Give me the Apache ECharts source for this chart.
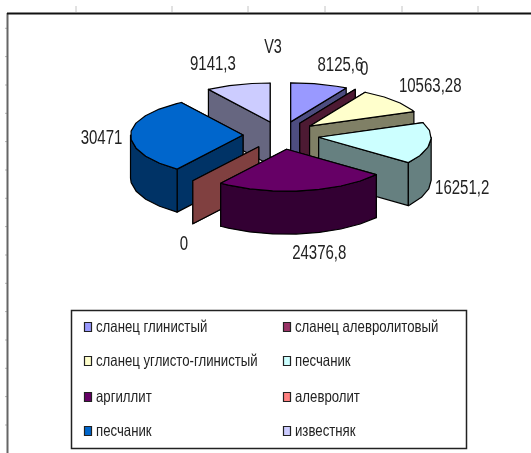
<!DOCTYPE html>
<html>
<head>
<meta charset="utf-8">
<style>html,body{margin:0;padding:0;background:#fff}#chart{width:531px;height:453px}</style>
<script src="https://cdn.jsdelivr.net/npm/echarts@6/dist/echarts.min.js"></script>
</head>
<body>
<div id="chart"></div>
<script>
// Rock types and their volumes, clockwise from twelve o'clock
const categories = ['сланец глинистый', 'сланец алевролитовый', 'сланец углисто-глинистый', 'песчаник', 'аргиллит', 'алевролит', 'песчаник', 'известняк'];
const values = [8125.6, 0, 10563.28, 16251.2, 24376.8, 0, 30471, 9141.3];
const colors = ['#9999FF', '#993366', '#FFFFCC', '#CCFFFF', '#660066', '#FF8080', '#0066CC', '#CCCCFF'];

// Painter's order: rear slices first, front slice last
const drawOrder = [7, 0, 1, 2, 3, 6, 5, 4];

// Projection of the tilted pie; the near half of the ellipse is slightly deeper
const centre = [281, 135.4];
const radiusX = 112.5;
const radiusYBack = 39;
const radiusYFront = 42;
const explodeX = 38;
const explodeY = 14;
const depth = 43;
const rimStep = 12;

// Value label offsets from the middle of each slice's rim
const labelOffsets = [[21, -19], [9, -20], [36, -14], [32, 46], [16, 63], [-9, 64], [-29, 4], [-25, -20]];

const labelFont = '"Liberation Sans", Arial, sans-serif';
const total = values.reduce((a, b) => a + b, 0);
const starts = [];
values.reduce((acc, v, i) => { starts[i] = acc; return acc + v / total * 360; }, 0);

const rad = d => d * Math.PI / 180;
function shade(hex, k) {
  const n = parseInt(hex.slice(1), 16);
  const c = s => Math.round(((n >> s) & 255) * k);
  return `rgb(${c(16)},${c(8)},${c(0)})`;
}
function rimPoint(apex, deg) {
  const cos = Math.cos(rad(deg));
  return [apex[0] + radiusX * Math.sin(rad(deg)), apex[1] - (cos < 0 ? radiusYFront : radiusYBack) * cos];
}
function arcPoints(apex, from, to) {
  const pts = [];
  for (let a = from; a < to; a += rimStep) pts.push(rimPoint(apex, a));
  pts.push(rimPoint(apex, to));
  return pts;
}
const drop = p => [p[0], p[1] + depth];

function polygon(points, fill) {
  return {
    type: 'polygon',
    shape: { points },
    style: { fill, stroke: '#000', lineWidth: 1.2, lineJoin: 'round' }
  };
}

function renderSlice(params, api) {
  const i = api.value(1);
  const value = api.value(0);
  const start = starts[i];
  const sweep = value / total * 360;
  const end = start + sweep;
  const mid = start + sweep / 2;
  const apex = [
    centre[0] + explodeX * Math.sin(rad(mid)),
    centre[1] - explodeY * Math.cos(rad(mid))
  ];
  const side = shade(colors[i], 0.5);
  const children = [];

  // Cut faces along the two radial edges, the nearer one on top
  [start, end]
    .sort((a, b) => rimPoint(apex, a)[1] - rimPoint(apex, b)[1])
    .forEach(edge => {
      const rim = rimPoint(apex, edge);
      children.push(polygon([apex, rim, drop(rim), drop(apex)], side));
    });

  if (sweep > 0) {
    // Outer wall, only the part turned towards the viewer
    const from = Math.max(start, 90);
    const to = Math.min(end, 270);
    if (to > from) {
      const arc = arcPoints(apex, from, to);
      children.push(polygon(arc.concat(arc.slice().reverse().map(drop)), side));
    }
    // Top face
    children.push(polygon([apex].concat(arcPoints(apex, start, end)), colors[i]));
  }

  // Value label
  const anchor = rimPoint(apex, mid);
  children.push({
    type: 'text',
    x: anchor[0] + labelOffsets[i][0],
    y: anchor[1] + labelOffsets[i][1],
    scaleX: 0.75,
    z2: 10,
    style: {
      text: String(value).replace('.', ','),
      font: '20px ' + labelFont,
      fill: '#222',
      align: 'center',
      verticalAlign: 'middle'
    }
  });
  return { type: 'group', children };
}

// Ruler ticks and frame edges around the chart area
const topTicks = [76, 172, 248, 325, 402, 478];
const leftTicks = [28.3, 56.6, 85, 113.3, 141.6, 170, 198.3, 226.6, 255, 283.3, 311.6, 340, 368.3, 396.6, 425];
const frame = [];
topTicks.forEach(x => frame.push({ type: 'line', shape: { x1: x, y1: 6, x2: x, y2: 12 }, style: { stroke: '#c4c4c4', lineWidth: 1 } }));
leftTicks.forEach(y => frame.push({ type: 'line', shape: { x1: 5, y1: y, x2: 7, y2: y }, style: { stroke: '#b8b8b8', lineWidth: 1 } }));
frame.push({ type: 'line', shape: { x1: 7.5, y1: 13, x2: 7.5, y2: 453 }, style: { stroke: '#666', lineWidth: 2 } });
frame.push({ type: 'line', shape: { x1: 7, y1: 13.5, x2: 531, y2: 13.5 }, style: { stroke: '#111', lineWidth: 2 } });

// Chart heading
const heading = {
  type: 'text',
  x: 273,
  y: 47,
  scaleX: 0.72,
  style: { text: 'V3', font: '20px ' + labelFont, fill: '#222', align: 'center', verticalAlign: 'middle' }
};

// Two-column legend in a boxed panel
const legendBox = { x: 71.5, y: 310.5, width: 395, height: 138 };
const legendColumns = [84, 283];
const legendRows = [327, 361, 397, 431];
const legend = [{
  type: 'rect',
  shape: legendBox,
  style: { fill: '#fff', stroke: '#222', lineWidth: 1.5 }
}];
categories.forEach((name, i) => {
  const x = legendColumns[i % 2];
  const y = legendRows[Math.floor(i / 2)];
  legend.push({
    type: 'rect',
    shape: { x: x + 0.5, y: y - 4.5, width: 7, height: 9 },
    style: { fill: colors[i], stroke: '#222', lineWidth: 1.2 }
  });
  legend.push({
    type: 'text',
    x: x + 12,
    y: y,
    scaleX: 0.8,
    style: {
      text: name,
      font: '16.5px ' + labelFont,
      fill: '#222',
      verticalAlign: 'middle'
    }
  });
});

const chart = echarts.init(document.getElementById('chart'), null, { renderer: 'canvas' });
chart.setOption({
  animation: false,
  backgroundColor: '#fff',
  graphic: { elements: frame.concat([heading], legend) },
  series: [{
    type: 'custom',
    coordinateSystem: 'none',
    silent: true,
    renderItem: renderSlice,
    data: drawOrder.map(i => [values[i], i])
  }]
});
</script>
</body>
</html>
